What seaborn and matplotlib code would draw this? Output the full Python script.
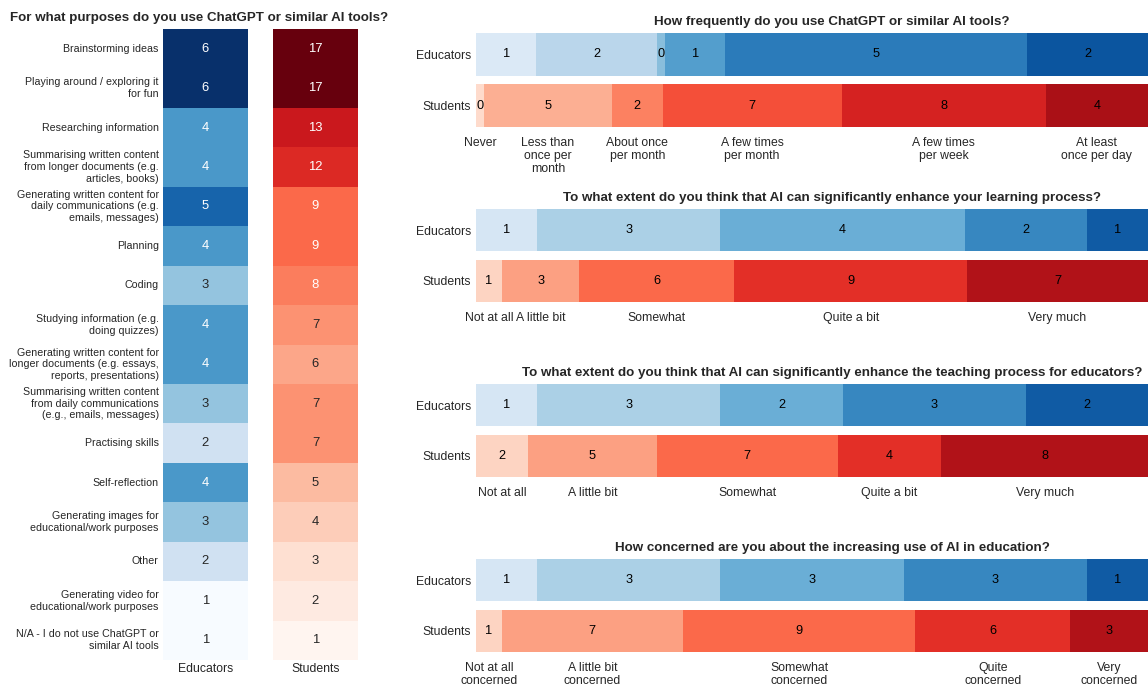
import numpy as np
import pandas as pd
import matplotlib.pyplot as plt
import seaborn as sns

sns.set_theme(style="white")
plt.rcParams['font.family'] = ['Liberation Sans', 'DejaVu Sans']

# Purposes of use (left heatmaps)
purposes = [
    "Brainstorming ideas",
    "Playing around / exploring it\nfor fun",
    "Researching information",
    "Summarising written content\nfrom longer documents (e.g.\narticles, books)",
    "Generating written content for\ndaily communications (e.g.\nemails, messages)",
    "Planning",
    "Coding",
    "Studying information (e.g.\ndoing quizzes)",
    "Generating written content for\nlonger documents (e.g. essays,\nreports, presentations)",
    "Summarising written content\nfrom daily communications\n(e.g., emails, messages)",
    "Practising skills",
    "Self-reflection",
    "Generating images for\neducational/work purposes",
    "Other",
    "Generating video for\neducational/work purposes",
    "N/A - I do not use ChatGPT or\nsimilar AI tools",
]
educator_purpose = [6, 6, 4, 4, 5, 4, 3, 4, 4, 3, 2, 4, 3, 2, 1, 1]
student_purpose = [17, 17, 13, 12, 9, 9, 8, 7, 6, 7, 7, 5, 4, 3, 2, 1]

# Frequency of use
freq_cats = ["Never", "Less than\nonce per\nmonth", "About once\nper month",
             "A few times\nper month", "A few times\nper week", "At least\nonce per day"]
freq_edu = [1, 2, 0, 1, 5, 2]
freq_stu = [0, 5, 2, 7, 8, 4]

# Enhance learning
learn_cats = ["Not at all", "A little bit", "Somewhat", "Quite a bit", "Very much"]
learn_edu = [1, 3, 4, 2, 1]
learn_stu = [1, 3, 6, 9, 7]

# Enhance teaching
teach_cats = ["Not at all", "A little bit", "Somewhat", "Quite a bit", "Very much"]
teach_edu = [1, 3, 2, 3, 2]
teach_stu = [2, 5, 7, 4, 8]

# Concern
concern_cats = ["Not at all\nconcerned", "A little bit\nconcerned", "Somewhat\nconcerned",
                "Quite\nconcerned", "Very\nconcerned"]
concern_edu = [1, 3, 3, 3, 1]
concern_stu = [1, 7, 9, 6, 3]

groups = ["Educators", "Students"]

W, H = 1148, 686
fig = plt.figure(figsize=(W / 100, H / 100), dpi=100)


def px_axes(x0, y0, x1, y1):
    return fig.add_axes([x0 / W, 1 - y1 / H, (x1 - x0) / W, (y1 - y0) / H])


# ---- left: purposes heatmaps
ax_e = px_axes(163, 29, 248, 660)
ax_s = px_axes(273, 29, 358, 660)
df_e = pd.DataFrame({"Educators": educator_purpose}, index=purposes)
df_s = pd.DataFrame({"Students": student_purpose}, index=purposes)
sns.heatmap(df_e, ax=ax_e, cmap="Blues", annot=True, cbar=False,
            annot_kws={"fontsize": 9.4})
sns.heatmap(df_s, ax=ax_s, cmap="Reds", annot=True, cbar=False,
            annot_kws={"fontsize": 9.4}, yticklabels=False)
for ax in (ax_e, ax_s):
    ax.tick_params(length=0, labelsize=8.8, pad=3)
    ax.tick_params(axis="x", pad=2)
    ax.set_ylabel("")
for lab in ax_e.get_yticklabels():
    lab.set_rotation(0)
    lab.set_fontsize(7.7)
    lab.set_linespacing(1.2)
fig.text(10 / W, 1 - 18 / H, "For what purposes do you use ChatGPT or similar AI tools?",
         fontsize=9.6, fontweight="bold", ha="left", va="center")


# ---- right: stacked proportion bars
def stacked(ax, cats, edu, stu, title):
    counts = np.array([edu, stu], dtype=float)
    shares = counts / counts.sum(axis=1, keepdims=True) * 100
    shares[counts == 0] = 1.2
    shares = shares / shares.sum(axis=1, keepdims=True) * 100
    lefts = np.cumsum(shares, axis=1) - shares
    blues = sns.color_palette("Blues", len(cats))
    reds = sns.color_palette("Reds", len(cats))
    for k in reversed(range(len(cats))):
        sns.barplot(x=lefts[:, k] + shares[:, k], y=groups, hue=groups,
                    palette=[blues[k], reds[k]], width=0.83, saturation=1,
                    legend=False, linewidth=0, ax=ax)
    for i in range(2):
        for k in range(len(cats)):
            ax.text(lefts[i, k] + shares[i, k] / 2, i, f"{int(counts[i, k])}",
                    ha="center", va="center", fontsize=9.2, color="black")
    ax.set_xticks(lefts[1] + shares[1] / 2)
    ax.set_xticklabels(cats, fontsize=8.8, linespacing=1.1)
    ax.tick_params(length=0, labelsize=8.8)
    ax.tick_params(axis="x", pad=7)
    ax.set_xlim(0, 100)
    ax.set_ylim(1 + 0.83 / 2, -0.83 / 2)
    ax.set_xlabel("")
    ax.set_ylabel("")
    sns.despine(ax=ax, left=True, bottom=True)
    ax.set_title(title, fontsize=9.6, fontweight="bold", x=0.53, pad=6)


stacked(px_axes(476, 33, 1148, 127), freq_cats, freq_edu, freq_stu,
        "How frequently do you use ChatGPT or similar AI tools?")
stacked(px_axes(476, 209, 1148, 302), learn_cats, learn_edu, learn_stu,
        "To what extent do you think that AI can significantly enhance your learning process?")
stacked(px_axes(476, 384, 1148, 477), teach_cats, teach_edu, teach_stu,
        "To what extent do you think that AI can significantly enhance the teaching process for educators?")
stacked(px_axes(476, 559, 1148, 652), concern_cats, concern_edu, concern_stu,
        "How concerned are you about the increasing use of AI in education?")

fig.savefig("out.png", dpi=100)
